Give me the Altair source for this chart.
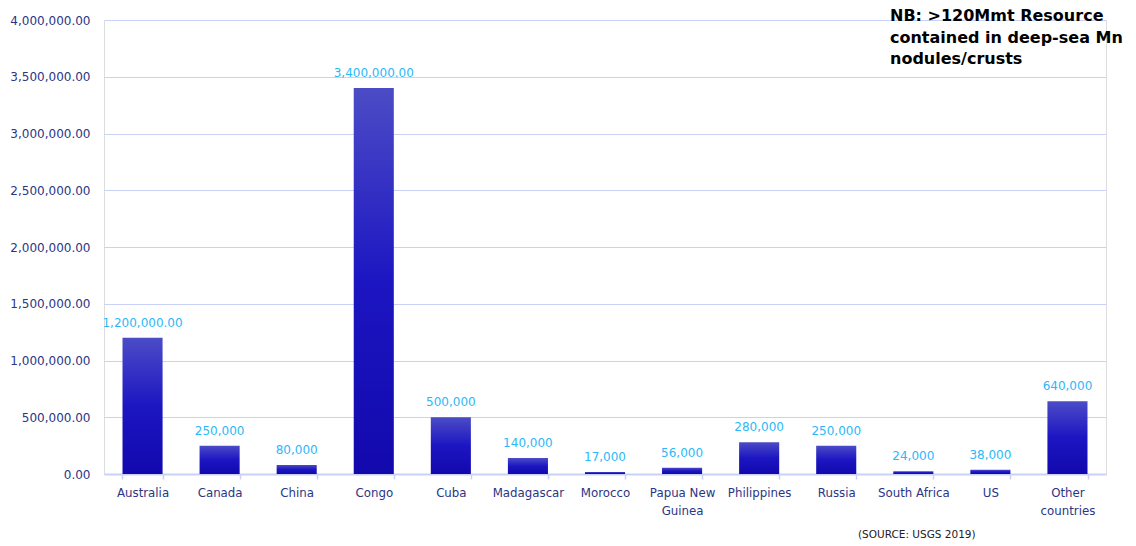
import altair as alt
import pandas as pd

countries = ["Australia", "Canada", "China", "Congo", "Cuba", "Madagascar", "Morocco",
             "Papua New Guinea", "Philippines", "Russia", "South Africa", "US", "Other countries"]
axis_labels = [["Australia"], ["Canada"], ["China"], ["Congo"], ["Cuba"], ["Madagascar"], ["Morocco"],
               ["Papua New", "Guinea"], ["Philippines"], ["Russia"], ["South Africa"], ["US"], ["Other", "countries"]]
values = [1200000, 250000, 80000, 3400000, 500000, 140000, 17000, 56000, 280000, 250000, 24000, 38000, 640000]
value_labels = ["1,200,000.00", "250,000", "80,000", "3,400,000.00", "500,000", "140,000", "17,000",
                "56,000", "280,000", "250,000", "24,000", "38,000", "640,000"]
note_lines = ["NB: >120Mmt Resource", "contained in deep-sea Mn", "nodules/crusts"]
source_text = "(SOURCE: USGS 2019)"

df = pd.DataFrame({"country": countries, "value": values, "label": value_labels})

label_expr = "{" + ",".join(
    f"'{c}': {axis_labels[i]!r}" for i, c in enumerate(countries)
) + "}[datum.value]"

AXIS_COLOR = "#2B3585"
GRID_COLOR = "#C9D1F7"
FONT = "DejaVu Sans"

x = alt.X("country:N", sort=countries, title=None,
          scale=alt.Scale(paddingInner=0.48, paddingOuter=0.24),
          axis=alt.Axis(labelAngle=0, labelExpr=label_expr, labelColor=AXIS_COLOR,
                        labelFont=FONT, labelFontSize=11.8, labelPadding=8,
                        domainColor=GRID_COLOR, domainWidth=2,
                        tickColor=GRID_COLOR, tickSize=5, tickWidth=1.5, tickBand="extent",
                        labelLineHeight=18))
y = alt.Y("value:Q", title=None,
          scale=alt.Scale(domain=[0, 4000000], nice=False),
          axis=alt.Axis(values=[i * 500000 for i in range(9)], format=",.2f",
                        labelColor=AXIS_COLOR, labelFont=FONT, labelFontSize=12,
                        labelPadding=14, domain=False, ticks=False,
                        gridColor=GRID_COLOR, gridWidth=1))

gradient = alt.Gradient(gradient="linear", x1=0, y1=0, x2=0, y2=1,
                        stops=[alt.GradientStop(color="#4C4CC6", offset=0),
                               alt.GradientStop(color="#1C16C2", offset=0.5),
                               alt.GradientStop(color="#1208AC", offset=1)])

bars = alt.Chart(df).mark_bar(color=gradient).encode(x=x, y=y)

text = alt.Chart(df).mark_text(baseline="bottom", dy=-8, color="#2BB8F8",
                               font=FONT, fontSize=12).encode(
    x=alt.X("country:N", sort=countries),
    y="value:Q",
    text="label:N")

note = alt.Chart(pd.DataFrame({"t": [note_lines]})).mark_text(
    align="left", baseline="top", font=FONT, fontSize=16, fontWeight="bold", color="#000000",
    lineHeight=21.5).encode(x=alt.value(786), y=alt.value(-12), text="t")

source = alt.Chart(pd.DataFrame({"t": [source_text]})).mark_text(
    align="left", baseline="middle", font=FONT, fontSize=10.5, color="#222222").encode(
    x=alt.value(754), y=alt.value(61 + 454), text="t:N")

chart = alt.layer(bars, text, note, source).properties(
    width=1002, height=454,
    autosize=alt.AutoSizeParams(type="none"),
    padding={"left": 104, "top": 20, "right": 30, "bottom": 72},
).configure_view(stroke=None).configure(background="white")

chart.save("out.html", embed_options={"renderer": "svg", "actions": False})
